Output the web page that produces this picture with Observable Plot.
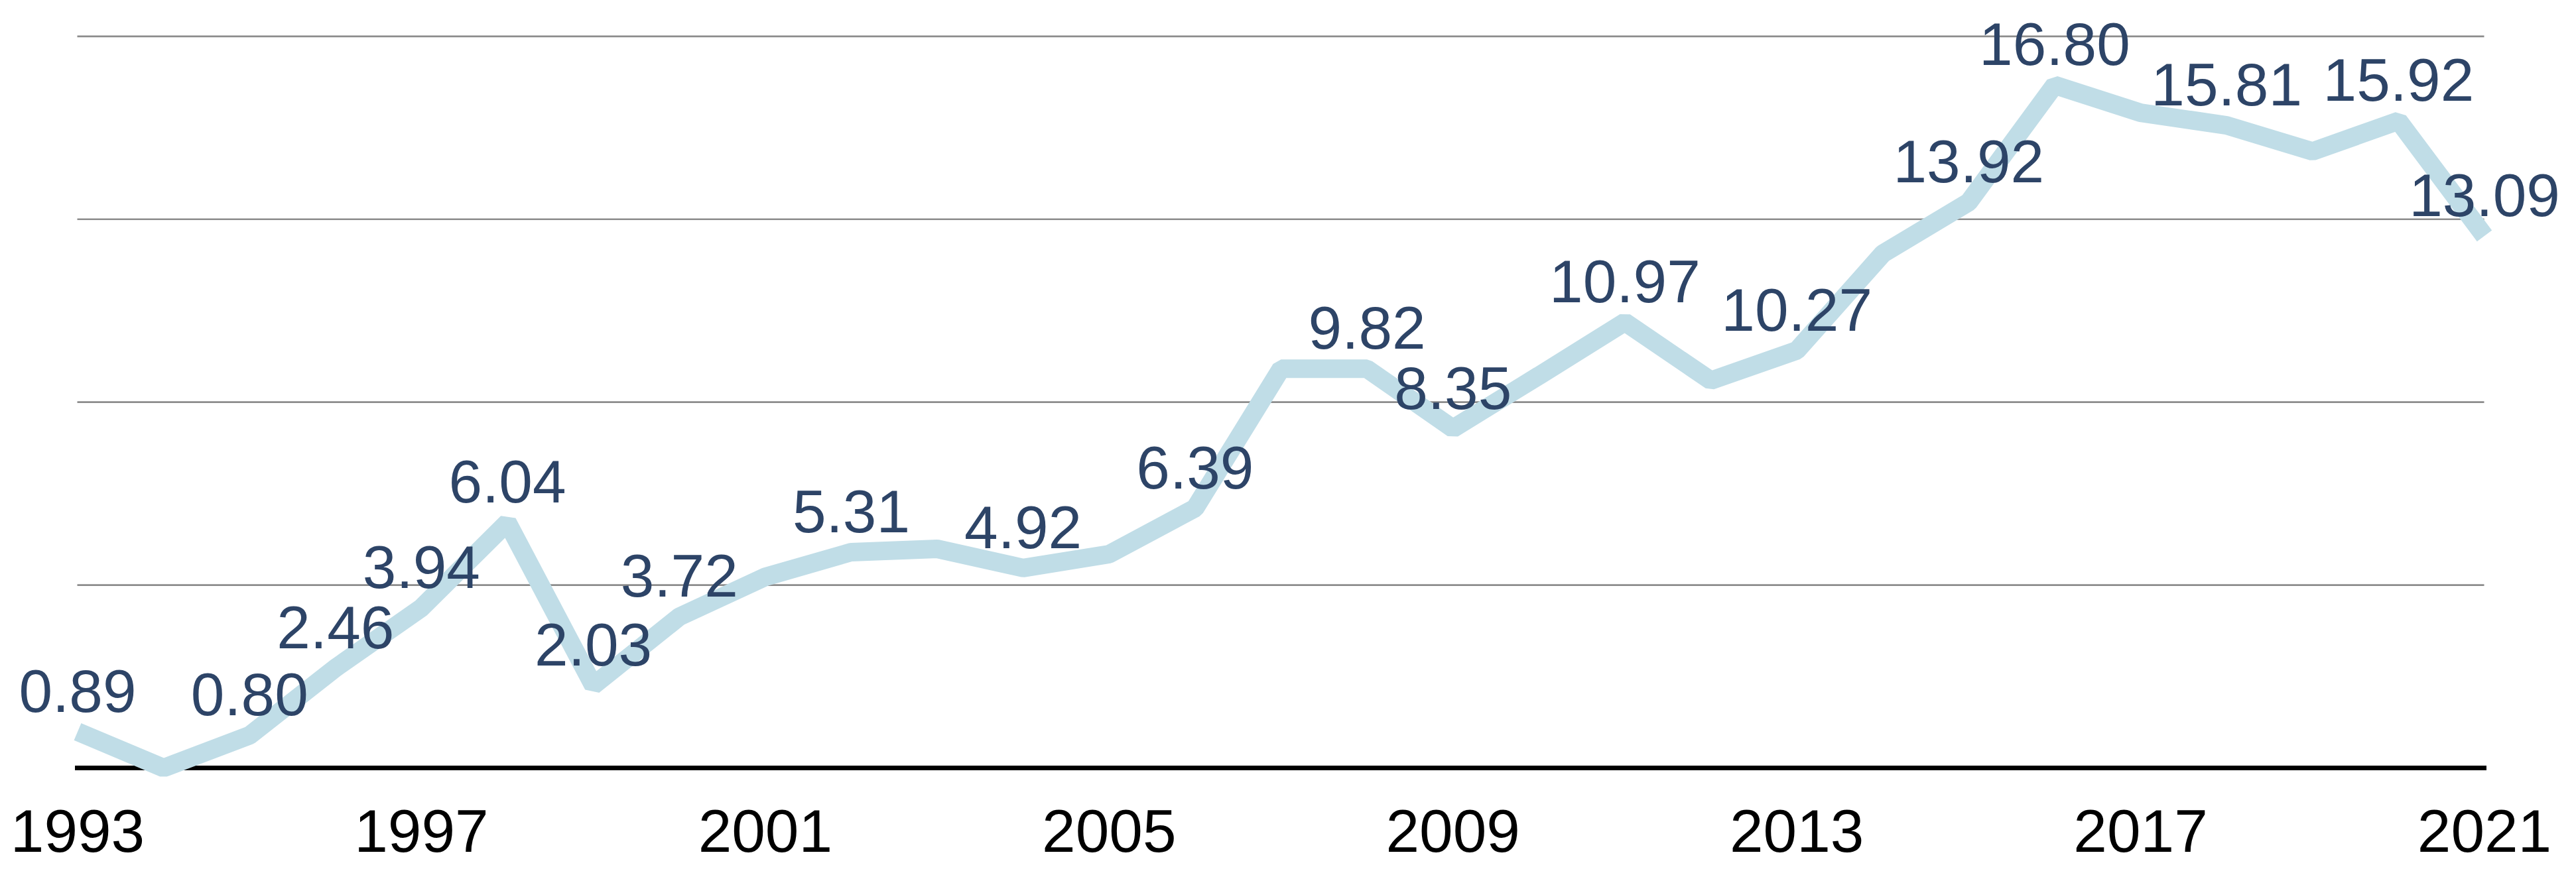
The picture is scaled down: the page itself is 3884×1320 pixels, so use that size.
<!DOCTYPE html>
<html><head><meta charset="utf-8">
<script src="https://cdn.jsdelivr.net/npm/d3@7"></script>
<script src="https://cdn.jsdelivr.net/npm/@observablehq/plot@0.6"></script>
<style>html,body{margin:0;padding:0;background:#fff;} #chart svg{display:block}</style>
</head><body><div id="chart"></div>
<script>
const years = [1993,1994,1995,1996,1997,1998,1999,2000,2001,2002,2003,2004,2005,2006,2007,2008,2009,2010,2011,2012,2013,2014,2015,2016,2017,2018,2019,2020,2021];
const values = [0.89,0.00,0.80,2.46,3.94,6.04,2.03,3.72,4.70,5.31,5.39,4.92,5.26,6.39,9.82,9.82,8.35,9.65,10.97,9.53,10.27,12.65,13.92,16.80,16.12,15.81,15.17,15.92,13.09];
const labeledYears = [1993,1995,1996,1997,1998,1999,2000,2002,2004,2006,2008,2009,2011,2013,2015,2016,2018,2020,2021];
const tickYears = [1993,1997,2001,2005,2009,2013,2017,2021];
const gridValues = [4.5, 9, 13.5, 18];

const data = years.map((year, i) => ({year, value: values[i]}));
const labeled = data.filter(d => labeledYears.includes(d.year));

const chart = Plot.plot({
  width: 3884, height: 1320,
  marginLeft: 116.5, marginRight: 138.5, marginTop: 54.3, marginBottom: 162,
  style: {fontFamily: "Helvetica, 'Liberation Sans', Arial, sans-serif", background: "white", overflow: "visible", color: "#000"},
  x: {domain: [1993, 2021], axis: null, label: null},
  y: {domain: [0, 18], axis: null, label: null},
  marks: [
    Plot.ruleY(gridValues, {stroke: "#8c8c8c", strokeWidth: 2.7}),
    Plot.ruleY([0], {stroke: "#000", strokeWidth: 7, strokeLinecap: "square"}),
    Plot.line(data, {x: "year", y: "value", stroke: "#c0dde7", strokeWidth: 28, strokeLinejoin: "miter", strokeLinecap: "butt"}),
    Plot.text(labeled, {x: "year", y: "value", text: d => d.value.toFixed(2), dy: -30, lineAnchor: "bottom", fontSize: 91, fill: "#2d4467"}),
    Plot.axisX({ticks: tickYears, tickFormat: d => String(d), tickSize: 0, tickPadding: 62, fontSize: 91, fill: "#000", label: null})
  ]
});
document.getElementById("chart").appendChild(chart);
</script>
</body></html>
